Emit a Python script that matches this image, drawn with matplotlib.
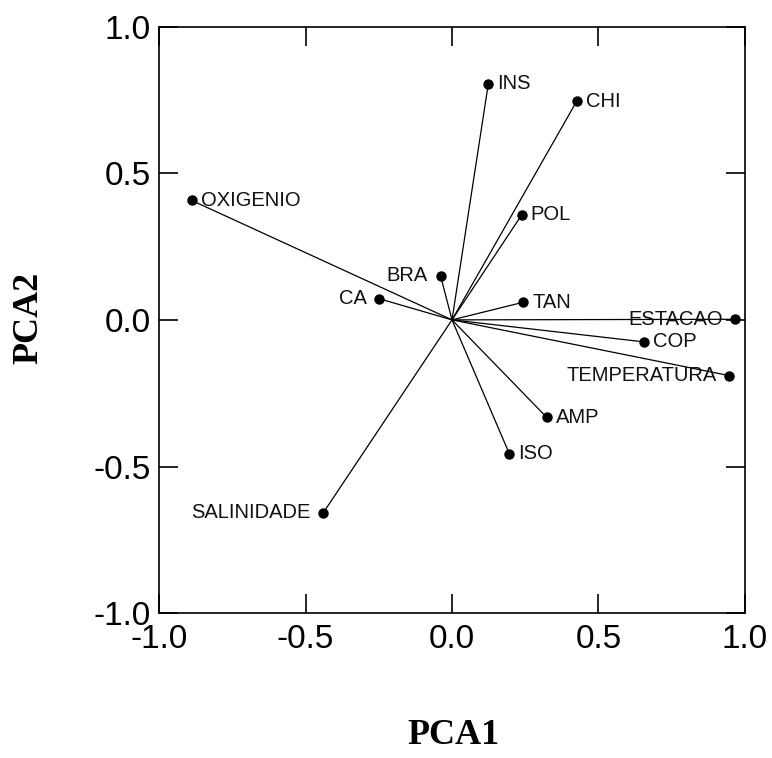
import matplotlib
matplotlib.use("Agg")
import matplotlib.pyplot as plt

names = ["INS", "CHI", "OXIGENIO", "POL", "BRA", "CA", "TAN", "ESTACAO",
         "COP", "TEMPERATURA", "AMP", "ISO", "SALINIDADE"]
pca1 = [0.124, 0.426, -0.888, 0.238, -0.039, -0.248, 0.243, 0.966,
        0.655, 0.946, 0.323, 0.196, -0.439]
pca2 = [0.805, 0.746, 0.407, 0.358, 0.150, 0.072, 0.060, 0.002,
        -0.075, -0.190, -0.332, -0.457, -0.657]
left_labels = {"BRA", "CA", "ESTACAO", "TEMPERATURA", "SALINIDADE"}
ticks = [-1.0, -0.5, 0.0, 0.5, 1.0]
tick_labels = ["-1.0", "-0.5", "0.0", "0.5", "1.0"]

fig = plt.figure(figsize=(7.72, 7.58), dpi=100)
ax = fig.add_axes([0.206, 0.191, 0.759, 0.774])

for n, x, y in zip(names, pca1, pca2):
    ax.plot([0, x], [0, y], color="black", lw=0.9, zorder=2)
ax.plot(pca1, pca2, "o", color="black", ms=6.5, zorder=3)

for n, x, y in zip(names, pca1, pca2):
    if n in left_labels:
        ax.annotate(n, (x, y), xytext=(-9, 0), textcoords="offset points",
                    ha="right", va="center", fontsize=14.5,
                    family="Liberation Sans", color="#111111")
    else:
        ax.annotate(n, (x, y), xytext=(6.5, 0), textcoords="offset points",
                    ha="left", va="center", fontsize=14.5,
                    family="Liberation Sans", color="#111111")

ax.set_xlim(-1, 1)
ax.set_ylim(-1, 1)
ax.set_xticks(ticks)
ax.set_xticklabels(tick_labels)
ax.set_yticks(ticks)
ax.set_yticklabels(tick_labels)
ax.tick_params(direction="in", length=14, width=1.2, top=True, right=True,
               labelsize=24)
ax.tick_params(axis="x", pad=8)
ax.tick_params(axis="y", pad=6)
for lab in ax.get_xticklabels() + ax.get_yticklabels():
    lab.set_family("Liberation Sans")
for s in ax.spines.values():
    s.set_linewidth(1.2)

fig.text(0.587, 0.018, "PCA1", ha="center", va="baseline", fontsize=26,
         family="Liberation Serif", weight="bold")
fig.text(0.037, 0.58, "PCA2", ha="center", va="center", fontsize=26,
         family="Liberation Serif", weight="bold", rotation=90)

fig.savefig("out.png", dpi=100)
